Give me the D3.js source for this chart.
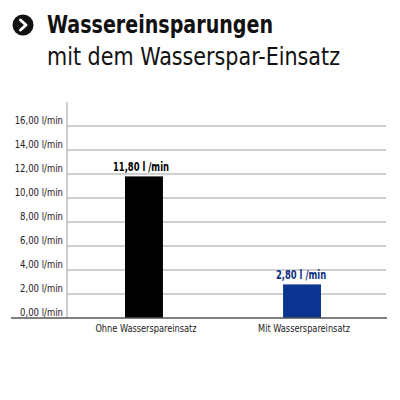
<!DOCTYPE html>
<html>
<head>
<meta charset="utf-8">
<script src="https://cdn.jsdelivr.net/npm/d3@7"></script>
<style>
  html, body { margin: 0; padding: 0; background: #fff; }
  svg { display: block; }
  text { font-family: "DejaVu Sans Condensed", "Liberation Sans Narrow", "Roboto", sans-serif; }
</style>
</head>
<body>
<div id="chart"></div>
<script>
// Water flow with and without the flow-reducing insert
const categories = ["Ohne Wasserspareinsatz", "Mit Wasserspareinsatz"];
const flowValues = [11.80, 2.80];
const valueLabels = ["11,80 l /min", "2,80 l /min"];
const barColors = ["#000000", "#0b3591"];
const labelColors = ["#000000", "#0b2f80"];
const yTicks = [0, 2, 4, 6, 8, 10, 12, 14, 16];
const yTickLabels = ["0,00 l/min", "2,00 l/min", "4,00 l/min", "6,00 l/min", "8,00 l/min",
                     "10,00 l/min", "12,00 l/min", "14,00 l/min", "16,00 l/min"];
const titleLine1 = "Wassereinsparungen";
const titleLine2 = "mit dem Wasserspar-Einsatz";

const W = 400, H = 400;
const svg = d3.select("#chart").append("svg").attr("width", W).attr("height", H);

// Squeeze a text selection horizontally by a fixed factor (narrow typeface look)
function squeeze(sel, factor) {
  sel.each(function () {
    const w = this.getComputedTextLength();
    d3.select(this).attr("textLength", w * factor).attr("lengthAdjust", "spacingAndGlyphs");
  });
}

// Heading with round arrow bullet
const bullet = svg.append("g").attr("transform", "translate(23,25)");
bullet.append("circle").attr("r", 10.5).attr("fill", "#111");
bullet.append("path")
  .attr("d", "M-2.5,-5 L3,0 L-2.5,5")
  .attr("fill", "none").attr("stroke", "#fff").attr("stroke-width", 3)
  .attr("stroke-linecap", "round").attr("stroke-linejoin", "round");

svg.append("text").attr("x", 47).attr("y", 33)
  .attr("font-size", 25).attr("font-weight", "bold").attr("fill", "#111")
  .text(titleLine1)
  .attr("textLength", 226).attr("lengthAdjust", "spacingAndGlyphs");
svg.append("text").attr("x", 47).attr("y", 65)
  .attr("font-size", 24).attr("fill", "#111")
  .text(titleLine2)
  .attr("textLength", 293).attr("lengthAdjust", "spacingAndGlyphs");

// Plot area
const axisX = 67, gridRight = 386, baseY = 318, topY = 126;
const y = d3.scaleLinear().domain([0, 16]).range([baseY, topY]);
const x = d3.scaleBand().domain(categories).range([axisX, 379])
  .paddingInner(0.76).paddingOuter(0.367);

// Horizontal gridlines
svg.append("g").selectAll("line").data(yTicks.filter(d => d > 0)).join("line")
  .attr("x1", axisX).attr("x2", gridRight)
  .attr("y1", d => y(d)).attr("y2", d => y(d))
  .attr("stroke", "#a0a0a0").attr("stroke-width", 1);

// Vertical axis line
svg.append("line").attr("x1", axisX).attr("x2", axisX)
  .attr("y1", 102).attr("y2", baseY)
  .attr("stroke", "#a0a0a0").attr("stroke-width", 1);

// Tick labels sit just above their gridline
svg.append("g").selectAll("text").data(yTicks).join("text")
  .attr("x", 63).attr("y", d => y(d) - 2)
  .attr("text-anchor", "end").attr("font-size", 11).attr("fill", "#222")
  .text((d, i) => yTickLabels[i])
  .call(squeeze, 0.86);

// Bars
svg.append("g").selectAll("rect").data(flowValues).join("rect")
  .attr("x", (d, i) => x(categories[i]))
  .attr("width", x.bandwidth())
  .attr("y", d => y(d))
  .attr("height", d => baseY - y(d))
  .attr("fill", (d, i) => barColors[i]);

// Baseline
svg.append("line").attr("x1", 11).attr("x2", 387)
  .attr("y1", baseY).attr("y2", baseY)
  .attr("stroke", "#555").attr("stroke-width", 1.5);

// Value labels above bars
svg.append("g").selectAll("text").data(flowValues).join("text")
  .attr("x", (d, i) => x(categories[i]) + x.bandwidth() / 2 - (i === 0 ? 3 : 1))
  .attr("y", d => y(d) - 5)
  .attr("text-anchor", "middle").attr("font-size", 12).attr("font-weight", "bold")
  .attr("fill", (d, i) => labelColors[i])
  .text((d, i) => valueLabels[i])
  .call(squeeze, 0.78);

// Category labels
svg.append("g").selectAll("text").data(categories).join("text")
  .attr("x", d => x(d) + x.bandwidth() / 2 + 2)
  .attr("y", 332)
  .attr("text-anchor", "middle").attr("font-size", 11).attr("fill", "#222")
  .text(d => d)
  .call(squeeze, 0.83);
</script>
</body>
</html>
